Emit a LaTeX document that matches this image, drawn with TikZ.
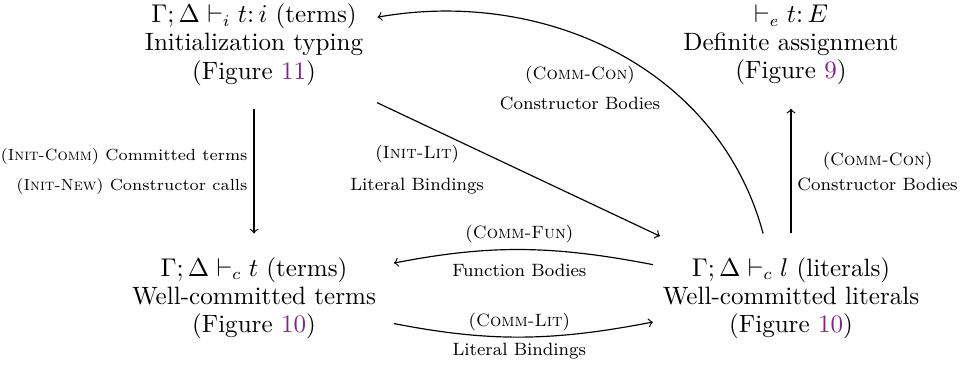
\documentclass[tikz,border=0pt]{standalone}
\usepackage{fontspec}
\usepackage{tikz}
\usetikzlibrary{calc}
\definecolor{figpurple}{RGB}{122,40,130}
\newcommand{\figno}[1]{(Figure~\textcolor{figpurple}{#1})}

\begin{document}
\begin{tikzpicture}[
    judg/.style={align=center, inner xsep=4pt, inner ysep=8pt, font=\fontsize{10.7pt}{12pt}\selectfont},
    rule/.style={font=\fontsize{7.6pt}{9pt}\selectfont, inner sep=2.5pt},
    arr/.style={->, line width=0.5pt, shorten <=2pt, shorten >=2pt}]
  \useasboundingbox (0,0) rectangle (14.4,5.52);

  \node [judg] (init)   at (3.81,4.85)    {$\Gamma; \Delta \vdash_i t\colon i$ (terms)\\Initialization typing\\\figno{11}};
  \node [judg] (defasg) at (11.865,4.85)  {$\vdash_e t\colon E$\\Definite assignment\\\figno{9}};
  \node [judg] (wct)    at (3.81,1.05)    {$\Gamma; \Delta \vdash_c t$ (terms)\\Well-committed terms\\\figno{10}};
  \node [judg] (wcl)    at (11.865,1.05)  {$\Gamma; \Delta \vdash_c l$ (literals)\\Well-committed literals\\\figno{10}};

  \draw [arr] (init) -- (wct)
    node [rule, midway, left, align=right, font=\fontsize{6.9pt}{9pt}\selectfont] {(\textsc{Init-Comm}) Committed terms\\[3.8pt](\textsc{Init-New}) Constructor calls};
  \draw [arr] (init) -- (wcl)
    node [rule, midway, left=12pt, align=center] {(\textsc{Init-Lit})\\[4.7pt]Literal Bindings};
  \draw [arr] (wcl) -- (defasg)
    node [rule, midway, right, align=center] {(\textsc{Comm-Con})\\[1.7pt]Constructor Bodies};

  \draw [arr, shorten <=0pt, shorten >=3.5pt] ($(wcl.west)+(0,0.5)$) to [bend right=11]
    node [rule, midway, above] {(\textsc{Comm-Fun})}
    node [rule, midway, below=3.5pt] {Function Bodies} ($(wct.east)+(0,0.5)$);
  \draw [arr, shorten <=3.5pt, shorten >=0pt] ($(wct.east)+(0,-0.36)$) to [bend right=11]
    node [rule, midway, above] {(\textsc{Comm-Lit})}
    node [rule, midway, below] {Literal Bindings} ($(wcl.west)+(0,-0.36)$);

  \draw [arr] ($(wcl.north)+(-0.4,0)$) to [out=105, in=10] ($(init.east)+(0,0.4)$);
  \node [rule, align=center] (conlbl) at (8.7,4.2) {(\textsc{Comm-Con})\\[3.8pt]Constructor Bodies};
\end{tikzpicture}
\end{document}
